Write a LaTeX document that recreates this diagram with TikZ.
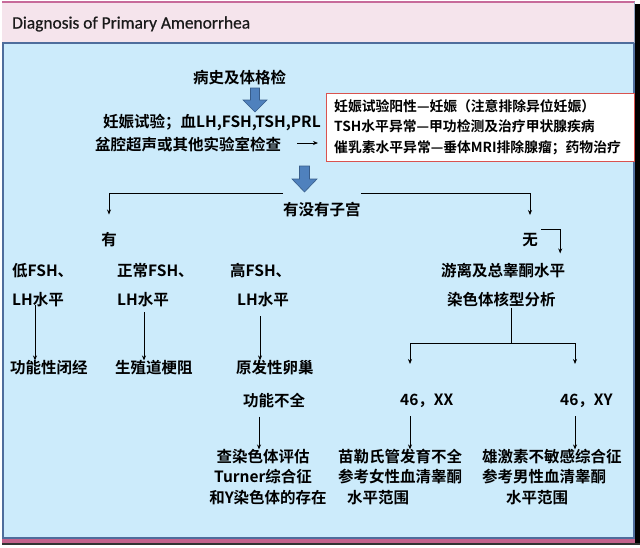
\documentclass[tikz,border=0pt]{standalone}
\usepackage{fontspec}
\setmainfont{Carlito}
\newfontfamily\titlefont{Carlito}[FakeBold=0.6]
\newfontfamily\cjk{Noto Sans CJK SC Bold}
\usetikzlibrary{arrows.meta,calc}
\definecolor{bluebg}{HTML}{CCEBFB}
\definecolor{pinkhead}{HTML}{F5E4EC}
\definecolor{frameblue}{HTML}{4E6D9C}
\definecolor{pinktop}{HTML}{C76A9A}
\definecolor{pinkband}{HTML}{C3628C}
\definecolor{arrowblue}{HTML}{4F81BD}
\definecolor{arrowdark}{HTML}{385D8A}
\definecolor{boxred}{HTML}{D9534F}
\begin{document}
\begin{tikzpicture}[x=1pt,y=-1pt,
  t/.style={font=\cjk\fontsize{15.5}{20.5}\selectfont, inner sep=0pt, text=black, anchor=west},
  ts/.style={font=\cjk\fontsize{13.8}{20.5}\selectfont, inner sep=0pt, text=black, anchor=west},
  arr/.style={-{Stealth[length=5pt,width=4pt]}, line width=0.8pt},
  ln/.style={line width=0.8pt},
  blk/.style={fill=arrowblue, draw=arrowdark, line width=0.6pt}]
\useasboundingbox (0,0) rectangle (640,547);
% frame
\fill[black] (635,4) rectangle (640,545);
\fill[pinkhead] (2,2) rectangle (635,43);
\draw[pinktop, line width=1.5pt] (2,2) -- (635,2);
\fill[bluebg] (2,43) rectangle (635,538);
\draw[frameblue, line width=1.6pt] (3,43) -- (3,538) -- (634,538) -- (634,43) -- cycle;
\draw[frameblue!60, line width=1pt] (634,2) -- (634,43);
\fill[pinkband] (2,539) rectangle (635,543);
\fill[black!80] (2,543) rectangle (640,545);

\node[font=\titlefont\fontsize{17.4}{20}\selectfont, anchor=west, inner sep=0pt, text=black!90] (title) at (12,24) {Diagnosis of Primary Amenorrhea};

% top part
\node[t] (hist) at (193,78) {病史及体格检};
\filldraw[blk] (250.5,88) -- (259.5,88) -- (259.5,100) -- (267,100) -- (255,112) -- (243,100) -- (250.5,100) -- cycle;
\node[t] (preg) at (103,122) {妊娠试验；血LH,FSH,TSH,PRL};
\node[t] (pelv) at (95,145) {盆腔超声或其他实验室检查};
\node[draw=boxred, line width=1.2pt, fill=white, anchor=north west, minimum width=308pt, minimum height=68pt, inner sep=0pt] (box) at (326,93) {};
\node[ts, align=left] (boxt) at (334,127) {妊娠试验阳性—妊娠（注意排除异位妊娠）\\TSH水平异常—甲功检测及治疗甲状腺疾病\\催乳素水平异常—垂体MRI排除腺瘤；药物治疗};
\draw[arr, shorten <=16pt, shorten >=8pt] (pelv.east) ++(0,-2) coordinate (pe) -- (pe -| box.west);

\filldraw[blk] (299.5,166) -- (309.5,166) -- (309.5,179) -- (317,179) -- (304.5,192) -- (292,179) -- (299.5,179) -- cycle;
\node[t] (q) at (283,210) {有没有子宫};
\coordinate (qL) at (q.west |- 0,193);
\coordinate (qR) at (q.east |- 0,193);
\node[t, anchor=center] (you) at (109,240) {有};
\node[t, anchor=center] (wu) at (530,240) {无};
\draw[arr] (qL) -| ([yshift=18pt]you.north);
\draw[arr] (qR) -| ([yshift=18pt]wu.north);

% left branch
\node[t] (lo1) at (12,271) {低FSH、};
\node[t] (lo2) at (117,271) {正常FSH、};
\node[t] (lo3) at (230,271) {高FSH、};
\node[t] (lh1) at (12,300) {LH水平};
\node[t] (lh2) at (117,300) {LH水平};
\node[t] (lh3) at (237,300) {LH水平};
\node[t] (f1) at (10,368) {功能性闭经};
\node[t] (f2) at (115,368) {生殖道梗阻};
\node[t] (f3) at (236,368) {原发性卵巢};
\node[t] (f3b) at (243,401) {功能不全};
\draw[arr] (35,305) coordinate (a1) -- (a1 |- f1.north);
\draw[arr] (144,312) coordinate (a2) -- (a2 |- f1.north);
\draw[arr] (260,316) coordinate (a3) -- (a3 |- f3.north);

% right branch
\node[t] (free) at (441,271) {游离及总睾酮水平};
\node[t] (kt) at (447,300) {染色体核型分析};
\coordinate (wa) at (541,229);
\draw[arr] (wa) -| ([shift={(57pt,10pt)}]free.north);
\coordinate (kj) at (511,343);
\node[t] (xx) at (400,401) {46，XX};
\node[t] (xy) at (560,401) {46，XY};
\draw[ln] (kt.south -| kj) -- (kj);
\draw[arr] (kj) -| ([yshift=30pt]xx.north -| 410,0);
\draw[arr] (kj) -| ([yshift=30pt]xy.north -| 575,0);

% bottom texts
\node[t, anchor=center] (c1) at (263,457) {查染色体评估};
\node[t, anchor=center] (c2) at (263,477) {Turner综合征};
\node[t, anchor=center] (c3) at (268,498) {和Y染色体的存在};
\node[t] (m1) at (338,457) {苗勒氏管发育不全};
\node[t] (m2) at (338,477) {参考女性血清睾酮};
\node[t] (m3) at (347,498) {水平范围};
\node[t] (r1) at (482,457) {雄激素不敏感综合征};
\node[t] (r2) at (482,477) {参考男性血清睾酮};
\node[t] (r3) at (506,498) {水平范围};
\draw[arr] (f3b.south -| 259,0) coordinate (b1) ++(0,8) -- (b1 |- c1.north);
\draw[arr] (xx.south -| 410,0) coordinate (b2) ++(0,8) -- (b2 |- m1.north);
\draw[arr] (xy.south -| 575,0) coordinate (b3) ++(0,8) -- (b3 |- r1.north);
\end{tikzpicture}
\end{document}
